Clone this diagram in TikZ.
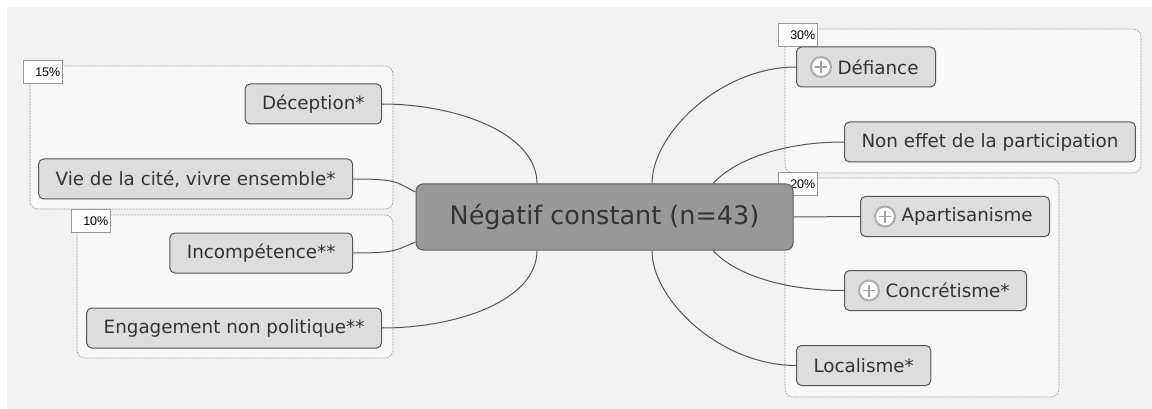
\documentclass[tikz,border=0pt]{standalone}
\usepackage{fontspec}
\setmainfont{DejaVu Sans}
\newfontfamily\pctfont{Liberation Sans}
\definecolor{bgcol}{RGB}{242,242,242}
\definecolor{grpcol}{RGB}{248,248,248}
\definecolor{leafcol}{RGB}{221,221,221}
\definecolor{rootcol}{RGB}{153,153,153}
\definecolor{inkcol}{RGB}{51,51,51}
\definecolor{edgecol}{RGB}{85,85,85}
\tikzset{
	leaf/.style={draw=edgecol, fill=leafcol, line width=1pt, rounded corners=5pt, text=inkcol, font=\fontsize{18.3}{20}\selectfont, minimum height=40pt, inner xsep=17pt},
	root/.style={draw=rootcol!60!black, fill=rootcol, line width=1pt, rounded corners=7pt, text=inkcol, font=\fontsize{25.5}{28}\selectfont, minimum width=377pt, minimum height=66pt},
	grp/.style={draw=gray!75, dash pattern=on 2pt off 1pt, fill=grpcol, rounded corners=8pt, line width=0.6pt},
	pct/.style={draw=gray!80, fill=white, line width=0.6pt, font=\pctfont\fontsize{12.5}{13}\selectfont, text width=35pt, align=right, inner xsep=2pt, minimum height=23pt, inner ysep=0pt},
	link/.style={draw=edgecol, line width=1pt},
	addicon/.pic={
		\draw[gray!65, line width=2pt, fill=white] (0,0) circle (10pt);
		\draw[gray!75, line width=1.3pt] (-6pt,0) -- (6pt,0) (0,-6pt) -- (0,6pt);
	}
}

\begin{document}
\begin{tikzpicture}[x=1pt, y=-1pt]
		\useasboundingbox (0,0) rectangle (1152,409);
		\fill[bgcol] (7,7) rectangle (1152,409);

		% groups
		\draw[grp] (30,66) rectangle (393,209);
		\draw[grp] (77,215) rectangle (393,358);
		\draw[grp] (785,29) rectangle (1141,173);
		\draw[grp] (785,178) rectangle (1059,397);

		\node[pct, anchor=north west] (p15) at (23,60) {15\%};
		\node[pct, anchor=north west] (p10) at (71,209) {10\%};
		\node[pct, anchor=north west] (p30) at (778,23) {30\%};
		\node[pct, anchor=north west] (p20) at (778,172) {20\%};

		\node[root] (root) at (604.5,217) {Négatif constant (n=43)};

		\node[leaf, anchor=east] (decep) at (382,104) {Déception*};
		\node[leaf, anchor=east] (vie) at (353,179) {Vie de la cité, vivre ensemble*};
		\node[leaf, anchor=east] (incomp) at (353,253) {Incompétence**};
		\node[leaf, anchor=east] (engag) at (382,328) {Engagement non politique**};

		\node[leaf, anchor=west] (defi) at (796,67) {\hspace*{24pt}Défiance};
		\node[leaf, anchor=west] (noneff) at (844,142) {Non effet de la participation};
		\node[leaf, anchor=west] (apart) at (860,216.5) {\hspace*{24pt}Apartisanisme};
		\node[leaf, anchor=west] (concr) at (844,290.5) {\hspace*{24pt}Concrétisme*};
		\node[leaf, anchor=west] (local) at (796,365.5) {Localisme*};

		\pic at ([xshift=25pt]defi.west) {addicon};
		\pic at ([xshift=25pt]apart.west) {addicon};
		\pic at ([xshift=25pt]concr.west) {addicon};

		% connectors
		\draw[link] (decep.east) .. controls +(75,0) and +(0,-50) .. ([xshift=-67.5pt]root.north);
		\draw[link] (vie.east) .. controls +(45,0) and +(-20,-10) .. ([yshift=25pt]root.west);
		\draw[link] (incomp.east) .. controls +(45,0) and +(-20,8) .. ([yshift=-25pt]root.west);
		\draw[link] (engag.east) .. controls +(75,0) and +(0,50) .. ([xshift=-67.5pt]root.south);
		\draw[link] (defi.west) .. controls +(-75,0) and +(0,-50) .. ([xshift=47.5pt]root.north);
		\draw[link] (noneff.west) .. controls +(-65,0) and +(20,-22) .. ([xshift=108.5pt]root.north);
		\draw[link] (apart.west) -- (root.east);
		\draw[link] (concr.west) .. controls +(-65,0) and +(20,22) .. ([xshift=108.5pt]root.south);
		\draw[link] (local.west) .. controls +(-75,0) and +(0,50) .. ([xshift=47.5pt]root.south);
	\end{tikzpicture}
\end{document}
